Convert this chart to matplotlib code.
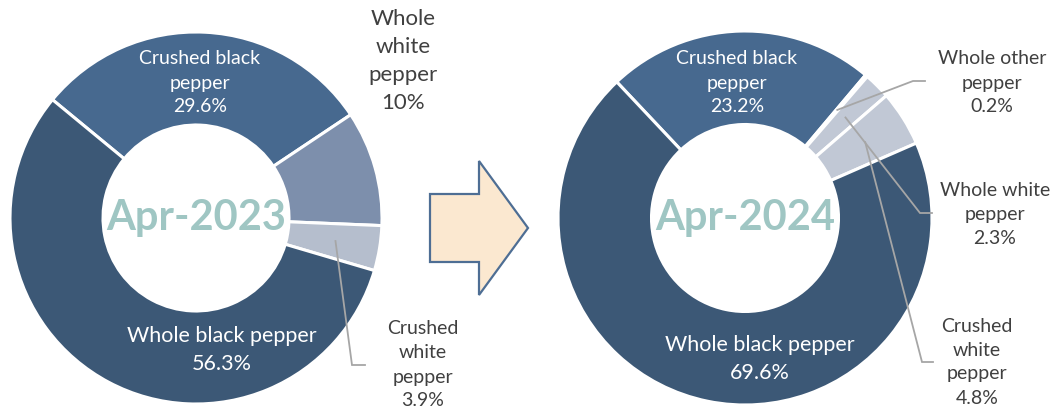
import numpy as np
import matplotlib.pyplot as plt
from matplotlib.patches import Polygon

plt.rcParams['font.family'] = ['Lato', 'DejaVu Sans']

# pepper export mix, share of volume (%)
labels_2023 = ["Crushed black\npepper", "Whole\nwhite\npepper", "Crushed\nwhite\npepper", "Whole black pepper"]
values_2023 = [29.6, 10.0, 3.9, 56.3]
pct_2023 = ["29.6%", "10%", "3.9%", "56.3%"]

labels_2024 = ["Crushed black\npepper", "Whole other\npepper", "Whole white\npepper", "Crushed\nwhite\npepper", "Whole black pepper"]
values_2024 = [23.2, 0.2, 2.3, 4.8, 69.6]
pct_2024 = ["23.2%", "0.2%", "2.3%", "4.8%", "69.6%"]

colors_2023 = ["#47698f", "#7d8fac", "#b5becd", "#3c5876"]
colors_2024 = ["#47698f", "#c1c8d5", "#c1c8d5", "#c1c8d5", "#3c5876"]

W, H = 1063, 415
fig = plt.figure(figsize=(W / 100, H / 100), dpi=100)
ax = fig.add_axes([0, 0, 1, 1])
ax.set_xlim(0, W)
ax.set_ylim(0, H)
ax.set_aspect("equal")
ax.axis("off")


def py(y):
    # pixel row -> data y
    return H - y


def donut(values, colors, center, radius, start):
    wedges, _ = ax.pie(values, colors=colors, center=center, radius=radius,
                       startangle=start, counterclock=False,
                       wedgeprops=dict(width=radius * 0.5, edgecolor="white", linewidth=2.2))
    return wedges


def mid_point(wedge, frac):
    a = np.deg2rad((wedge.theta1 + wedge.theta2) / 2)
    cx, cy = wedge.center
    return cx + wedge.r * frac * np.cos(a), cy + wedge.r * frac * np.sin(a)


def leader(wedge, elbow, end):
    x0, y0 = mid_point(wedge, 0.76)
    ax.plot([x0, elbow[0], end[0]], [y0, elbow[1], end[1]], color="#a6a6a6", lw=1.3,
            solid_joinstyle="miter")


inner = dict(color="white", fontsize=14, ha="center", va="center", linespacing=1.5)
big_inner = dict(inner, fontsize=15.5, linespacing=1.55)
outer = dict(color="#404040", fontsize=14, ha="center", va="center", linespacing=1.5)
year = dict(color="#9fc6c3", fontsize=30, fontweight="bold", ha="center", va="center")

# 2023
c1 = (196, py(218))
w1 = donut(values_2023, colors_2023, c1, 186, 140.5)
ax.text(200, py(83), f"{labels_2023[0]}\n{pct_2023[0]}", **inner)
ax.text(222, py(350), f"{labels_2023[3]}\n{pct_2023[3]}", **big_inner)
ax.text(403, py(61), f"{labels_2023[1]}\n{pct_2023[1]}", **dict(outer, fontsize=16))
ax.text(423, py(365), f"{labels_2023[2]}\n{pct_2023[2]}", **outer)
leader(w1[2], (352, py(365)), (365, py(365)))
ax.text(c1[0], c1[1], "Apr-2023", **year)

# 2024
c2 = (745, py(218))
w2 = donut(values_2024, colors_2024, c2, 187, 133.3)
ax.text(737, py(83), f"{labels_2024[0]}\n{pct_2024[0]}", **inner)
ax.text(760, py(359), f"{labels_2024[4]}\n{pct_2024[4]}", **big_inner)
ax.text(992, py(83), f"{labels_2024[1]}\n{pct_2024[1]}", **outer)
ax.text(995, py(215), f"{labels_2024[2]}\n{pct_2024[2]}", **outer)
ax.text(977, py(362), f"{labels_2024[3]}\n{pct_2024[3]}", **outer)
leader(w2[1], (913, py(81)), (925, py(81)))
leader(w2[2], (920, py(213)), (932, py(213)))
leader(w2[3], (922, py(362)), (933, py(362)))
ax.text(c2[0], c2[1], "Apr-2024", **year)

# block arrow between the two years
arrow = [(430, 194), (479, 194), (479, 161), (528, 228), (479, 295), (479, 262), (430, 262)]
ax.add_patch(Polygon([(x, py(y)) for x, y in arrow], closed=True,
                     facecolor="#fbe8d0", edgecolor="#4e6e94", lw=1.6, joinstyle="miter"))

ax.set_xlim(0, W)
ax.set_ylim(0, H)
fig.savefig("out.png", dpi=100)
